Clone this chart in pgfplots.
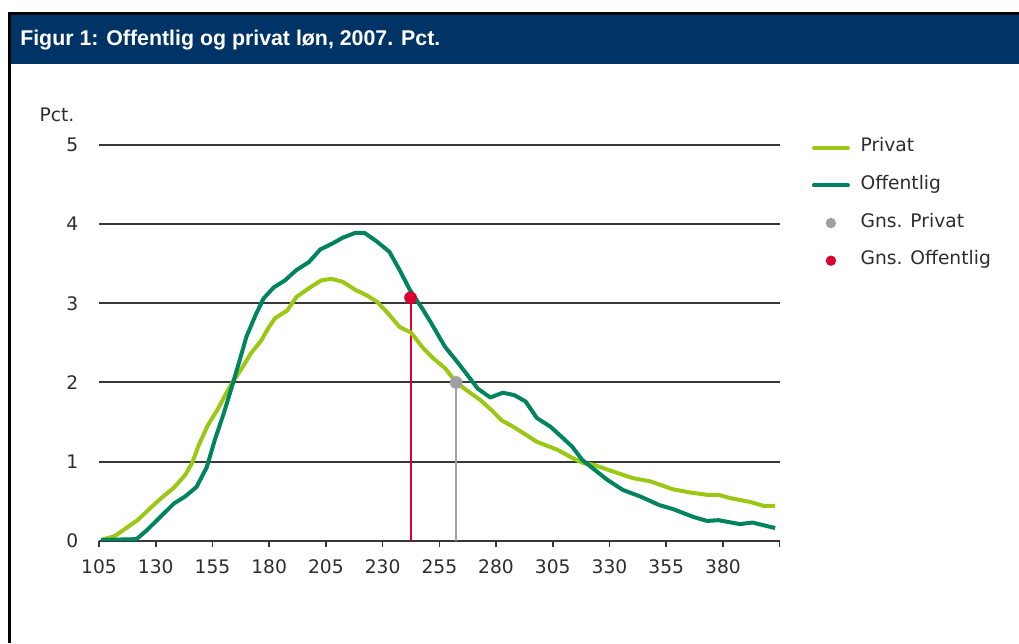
\documentclass[border=0pt]{standalone}
\usepackage{fontspec}
\setmainfont{DejaVu Sans}
\newfontfamily\titlefont{Liberation Sans}
\usepackage{pgfplots}
\pgfplotsset{compat=1.18}
\definecolor{privat}{RGB}{155,200,20}
\definecolor{offentlig}{RGB}{0,132,96}
\definecolor{navy}{RGB}{0,51,102}
\definecolor{gnsred}{RGB}{220,0,50}
\definecolor{gnsgray}{RGB}{160,160,160}
\definecolor{gridc}{RGB}{55,55,55}
\definecolor{txt}{RGB}{45,45,45}
\begin{document}
\begin{tikzpicture}
\path[use as bounding box] (0,0) rectangle (764.25pt,482.25pt);
\fill[white] (0,0) rectangle (764.25pt,482.25pt);
\fill[navy] (8.25pt,434.25pt) rectangle (764.25pt,471pt);
\draw[black, line width=2.25pt] (7.3pt,0) -- (7.3pt,472.4pt) -- (764.25pt,472.4pt);
\node[anchor=west, inner sep=0pt, text=white, font=\titlefont\bfseries\fontsize{16}{19}\selectfont] at (15pt,452.5pt) {Figur 1: Offentlig og privat løn, 2007. Pct.};
\node[anchor=west, inner sep=0pt, text=txt, font=\fontsize{14}{16}\selectfont] at (29.5pt,396pt) {Pct.};
\begin{axis}[
  at={(74.25pt,76.7pt)}, anchor=south west,
  scale only axis, width=510.5pt, height=296.8pt,
  xmin=105, xmax=405, ymin=0, ymax=5,
  axis x line*=bottom, axis y line*=left,
  x axis line style={-, line width=1.5pt, draw=gridc},
  y axis line style={draw=none},
  xtick={105,130,...,405},
  xticklabels={105,130,155,180,205,230,255,280,305,330,355,380,},
  ytick={0,1,2,3,4,5},
  /pgf/number format/assume math mode=true,
  ymajorgrids, grid style={line width=1.5pt, draw=gridc},
  xtick align=outside, major tick length=5pt,
  xtick style={line width=1.2pt, draw=gridc},
  ytick style={draw=none},
  tick label style={font=\fontsize{14}{16}\selectfont, text=txt},
  yticklabel style={xshift=-12pt},
  xticklabel style={yshift=-6pt},
  legend style={at={(1.047,1.017)}, anchor=north west, draw=none, fill=none, inner sep=0pt,
    nodes={inner sep=0pt, text height=10pt, text depth=4pt, font=\fontsize{14}{16}\selectfont, text=txt},
    row sep=14.2pt,
    /tikz/every odd column/.append style={column sep=8pt}},
  legend cell align=left,
]
\addplot[gnsred, line width=1.5pt, forget plot] coordinates {(242.3,0) (242.3,3.07)};
\addplot[gnsgray, line width=1.5pt, forget plot] coordinates {(262.4,0) (262.4,2.0)};
\addplot[privat, line width=3pt, line join=round,
  legend image code/.code={\path[draw=none,fill=none] (0pt,-4pt) rectangle (28.5pt,4pt); \draw[privat, line width=3pt, line cap=round] (1.5pt,0pt) -- (27pt,0pt);}]
 coordinates {
(106,0.01)(112,0.06)(117,0.16)(122,0.26)(127.5,0.41)(132.5,0.54)(138,0.67)(143,0.83)(146,0.98)(149,1.21)(153,1.46)(157.5,1.67)(161,1.86)(164,2.01)(168,2.18)(172,2.37)(176.5,2.53)(179.5,2.68)(182.5,2.81)(188,2.91)(192,3.08)(198,3.20)(203,3.29)(207.5,3.31)(212.5,3.27)(218,3.17)(223,3.10)(227.5,3.02)(232.5,2.87)(237.5,2.70)(242.5,2.63)(248,2.43)(252.5,2.30)(257.5,2.18)(262.5,2.0)(268,1.88)(273,1.78)(278,1.65)(282.5,1.52)(287,1.45)(292,1.36)(298,1.25)(307,1.15)(314,1.04)(318.5,0.98)(323,0.96)(332,0.87)(340.5,0.79)(348,0.75)(358,0.65)(365.5,0.61)(373,0.58)(378,0.58)(383,0.54)(392,0.49)(398,0.44)(403,0.44)
};
\addlegendentry{Privat}
\addplot[offentlig, line width=3pt, line join=round,
  legend image code/.code={\path[draw=none,fill=none] (0pt,-4pt) rectangle (28.5pt,4pt); \draw[offentlig, line width=3pt, line cap=round] (1.5pt,0pt) -- (27pt,0pt);}]
 coordinates {
(106,0.01)(121.5,0.02)(126,0.13)(132,0.30)(138,0.47)(143,0.56)(148,0.68)(152.5,0.93)(156,1.27)(160,1.61)(163.5,1.94)(167,2.28)(170,2.58)(174,2.85)(177.5,3.06)(182,3.20)(187,3.29)(192,3.42)(197.5,3.52)(202.5,3.68)(207.5,3.75)(212.5,3.83)(218,3.89)(222,3.89)(227.5,3.78)(233,3.65)(237.5,3.42)(242,3.17)(248,2.91)(251,2.77)(257.5,2.45)(264,2.22)(272,1.92)(277.5,1.81)(283,1.87)(288,1.84)(293,1.76)(298,1.55)(304,1.44)(309,1.31)(313.5,1.19)(318,1.02)(322,0.93)(329,0.77)(336,0.64)(343.5,0.56)(352,0.45)(358,0.40)(367,0.30)(373,0.25)(378,0.26)(387.5,0.21)(393,0.23)(403,0.16)
};
\addlegendentry{Offentlig}
\addplot[only marks, mark=*, mark size=4.5pt, color=gnsgray,
  legend image code/.code={\path[draw=none,fill=none] (0pt,-4pt) rectangle (28.5pt,4pt); \fill[gnsgray, draw=none] (14.25pt,0pt) circle[radius=3.9pt];}]
 coordinates {(262.4,2.0)};
\addlegendentry{Gns. Privat}
\addplot[only marks, mark=*, mark size=4.5pt, color=gnsred,
  legend image code/.code={\path[draw=none,fill=none] (0pt,-4pt) rectangle (28.5pt,4pt); \fill[gnsred, draw=none] (14.25pt,0pt) circle[radius=3.9pt];}]
 coordinates {(242.3,3.07)};
\addlegendentry{Gns. Offentlig}
\end{axis}
\end{tikzpicture}
\end{document}
